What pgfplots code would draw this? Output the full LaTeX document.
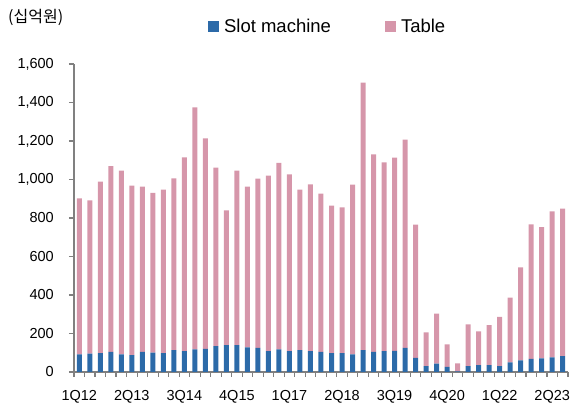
\documentclass[border=0pt]{standalone}
\usepackage{fontspec}
\setmainfont{Liberation Sans}
\newfontfamily\kr{Noto Sans CJK KR}
\usepackage{pgfplots}
\usepackage{pgfplotstable}
\pgfplotsset{compat=1.18}
\definecolor{slotblue}{RGB}{44,106,168}
\definecolor{tablepink}{RGB}{214,150,170}
\definecolor{axgray}{RGB}{128,128,128}
\pgfplotstableread{
x slot table
0 92 810
1 95 797
2 98 891
3 104 965
4 92 954
5 88 880
6 104 859
7 100 830
8 98 849
9 114 892
10 109 1006
11 118 1257
12 120 1094
13 134 928
14 140 700
15 140 906
16 128 835
17 125 880
18 109 911
19 118 968
20 109 918
21 114 833
22 108 867
23 104 823
24 98 766
25 98 757
26 92 881
27 114 1389
28 104 1027
29 108 981
30 110 1003
31 125 1082
32 73 692
33 30 176
34 44 259
35 26 118
36 3 42
37 31 217
38 36 175
39 36 207
40 31 255
41 50 336
42 61 483
43 68 699
44 71 681
45 76 759
46 82 767
}\data
\begin{document}
\begin{tikzpicture}
\useasboundingbox (0pt,0pt) rectangle (574pt,414pt);
\begin{axis}[
  at={(74pt,42pt)}, anchor=south west,
  scale only axis, width=494pt, height=308pt,
  xmin=-0.5, xmax=46.5, ymin=0, ymax=1600,
  ybar stacked, bar width=5pt,
  axis x line*=bottom, axis y line*=left,
  axis line style={axgray, line width=1.1pt},
  tick style={axgray, line width=1.1pt},
  tick align=outside,
  major tick length=5pt,
  xtick={-0.5,0.5,1.5,2.5,3.5,4.5,5.5,6.5,7.5,8.5,9.5,10.5,11.5,12.5,13.5,14.5,15.5,16.5,17.5,18.5,19.5,20.5,21.5,22.5,23.5,24.5,25.5,26.5,27.5,28.5,29.5,30.5,31.5,32.5,33.5,34.5,35.5,36.5,37.5,38.5,39.5,40.5,41.5,42.5,43.5,44.5,45.5,46.5},
  xticklabels={},
  extra x ticks={0,5,10,15,20,25,30,35,40,45},
  extra x tick labels={1Q12,2Q13,3Q14,4Q15,1Q17,2Q18,3Q19,4Q20,1Q22,2Q23},
  extra x tick style={major tick length=0pt, tick label style={anchor=north, inner sep=0pt, yshift=-18pt}},
  ytick={0,200,...,1600},
  yticklabel style={anchor=east, inner sep=0pt, xshift=-15pt},
  tick label style={font=\fontsize{14.5}{16}\selectfont},
  /pgf/number format/assume math mode=true,
  /pgf/number format/1000 sep={,},
  legend style={at={(0.271,1.123)}, anchor=west, draw=none, fill=none,
    inner sep=0pt, font=\fontsize{18.5}{20}\selectfont,
    /tikz/every even column/.append style={column sep=52pt}},
  legend columns=2,
  legend image code/.code={\fill[#1] (-3pt,-5.5pt) rectangle (8pt,5.5pt);},
]
\addplot[fill=slotblue, draw=none] table[x=x,y=slot]{\data};
\addplot[fill=tablepink, draw=none] table[x=x,y=table]{\data};
\legend{\hspace{3pt}Slot machine, \hspace{3pt}Table}
\end{axis}
\node[anchor=west, inner sep=0pt, font=\kr\fontsize{16}{18}\selectfont] at (8pt,397pt) {(십억원)};
\end{tikzpicture}
\end{document}
